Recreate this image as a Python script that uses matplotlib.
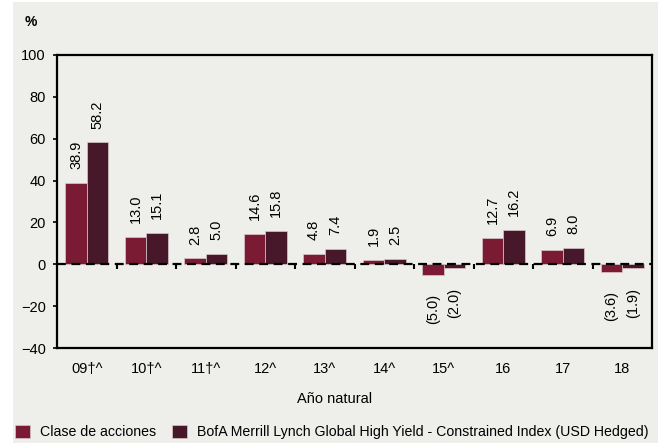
import numpy as np
import matplotlib
matplotlib.use('Agg')
import matplotlib.pyplot as plt
from matplotlib.patches import Rectangle

# data
years = ['09\u2020^', '10\u2020^', '11\u2020^', '12^', '13^', '14^', '15^', '16', '17', '18']
clase = [38.9, 13.0, 2.8, 14.6, 4.8, 1.9, -5.0, 12.7, 6.9, -3.6]
index = [58.2, 15.1, 5.0, 15.8, 7.4, 2.5, -2.0, 16.2, 8.0, -1.9]
series_names = ['Clase de acciones',
                'BofA Merrill Lynch Global High Yield - Constrained Index (USD Hedged)']
yticks = [-40, -20, 0, 20, 40, 60, 80, 100]

c_clase = '#7a1a33'
c_index = '#461829'
bg = '#eeeeeb'

plt.rcParams['font.family'] = ['Liberation Sans', 'DejaVu Sans']
plt.rcParams['font.size'] = 10.5

fig = plt.figure(figsize=(6.62, 4.43), dpi=100, facecolor='white')
fig.patches.append(Rectangle((13/662, 0), 645/662, 1 - 2/443, transform=fig.transFigure,
                             facecolor=bg, edgecolor='none', zorder=-10))
ax = fig.add_axes([57/662, 1 - 348/443, 595/662, 293/443])
ax.set_facecolor(bg)

x = np.arange(len(years))
w = 0.36
b1 = ax.bar(x - w/2, clase, w, color=c_clase, edgecolor='#d8c8cc', linewidth=0.5,
            label=series_names[0], zorder=2)
b2 = ax.bar(x + w/2, index, w, color=c_index, edgecolor='#d8c8cc', linewidth=0.5,
            label=series_names[1], zorder=2)

def fmt(v):
    return '(%.1f)' % abs(v) if v < 0 else '%.1f' % v

for bars, vals in ((b1, clase), (b2, index)):
    for r, v in zip(bars, vals):
        xc = r.get_x() + r.get_width()/2
        if v >= 0:
            ax.annotate(fmt(v), (xc, v), xytext=(0, 10), textcoords='offset points',
                        rotation=90, ha='center', va='bottom')
        else:
            ax.annotate(fmt(v), (xc, v), xytext=(0, -14), textcoords='offset points',
                        rotation=90, ha='center', va='top')

# dashed zero line and small boundary marks
ax.axhline(0, color='black', lw=1.6, ls=(0, (4, 2.5)), zorder=3)
ax.vlines(x[:-1] + 0.5, -2.2, 0, color='black', lw=1.5, zorder=3)

ax.set_xlim(-0.5, len(years) - 0.5)
ax.set_ylim(-40, 100)
ax.set_yticks(yticks)
ax.set_xticks(x)
ax.set_xticklabels(years)
ax.tick_params(axis='x', length=0, pad=10)
ax.tick_params(axis='y', length=3, width=1.2, pad=5)
for s in ax.spines.values():
    s.set_linewidth(1.6)

fig.text(25/662, 1 - 22/443, '%', fontweight='bold', ha='left', va='center', fontsize=10)
fig.text(335/662, 1 - 399/443, 'A\u00f1o natural', ha='center', va='center')

fig.legend(handles=[b1, b2], loc='center left', bbox_to_anchor=(15/662, 1 - 432/443),
           ncol=2, frameon=False, borderpad=0, borderaxespad=0, fontsize=10.2,
           handlelength=1.06, handleheight=1.06, handletextpad=0.7, columnspacing=1.15)

fig.savefig('out.png', dpi=100, facecolor=fig.get_facecolor())
